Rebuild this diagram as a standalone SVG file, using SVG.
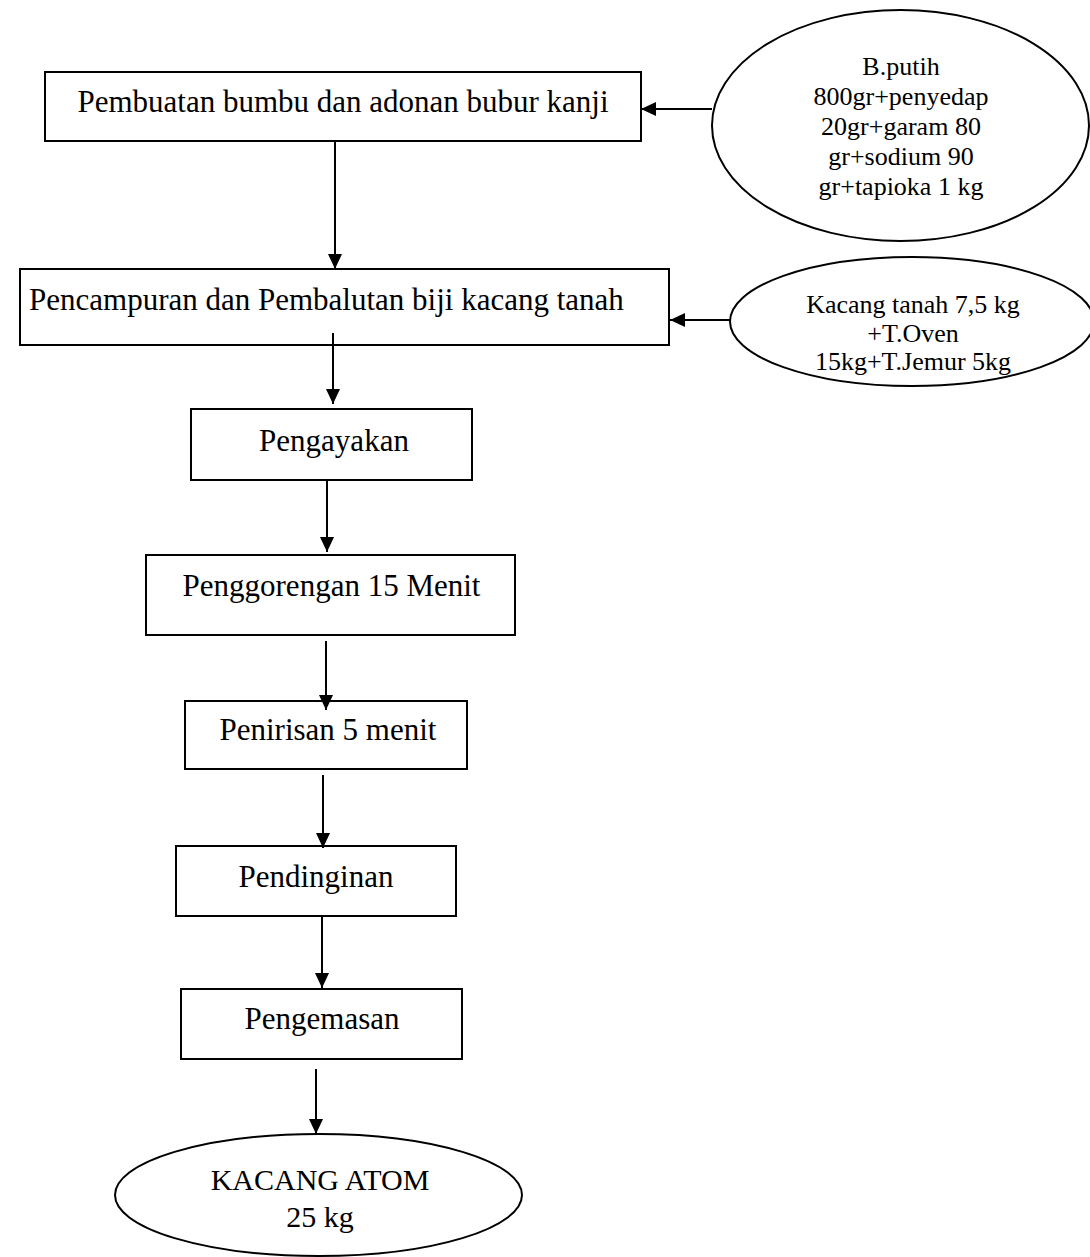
<svg xmlns="http://www.w3.org/2000/svg" width="1090" height="1257" viewBox="0 0 1090 1257">
<style>
.box{fill:#fff;stroke:#000;stroke-width:2}
.ell{fill:#fff;stroke:#000;stroke-width:2}
.t{font-family:"Liberation Serif","Times New Roman",serif;font-size:31px;fill:#000}
.s{font-family:"Liberation Serif","Times New Roman",serif;font-size:26px;fill:#000;text-anchor:middle}
.c{text-anchor:middle}
.ln{stroke:#000;stroke-width:2;fill:none;marker-end:url(#ah)}
</style>
<defs>
<marker id="ah" viewBox="0 0 15 14" refX="15" refY="7" markerWidth="15" markerHeight="14" markerUnits="userSpaceOnUse" orient="auto">
<path d="M0,0 L15,7 L0,14 Z" fill="#000"/>
</marker>
</defs>
<rect width="1090" height="1257" fill="#fff"/>
<g id="n1">
<rect class="box" x="45" y="72" width="596" height="69"/>
<text class="t c" x="343" y="112">Pembuatan bumbu dan adonan bubur kanji</text>
</g>
<g id="e1">
<ellipse class="ell" cx="900.5" cy="125.5" rx="188.5" ry="115.5"/>
<text class="s" x="901" y="75">B.putih</text>
<text class="s" x="901" y="105">800gr+penyedap</text>
<text class="s" x="901" y="135">20gr+garam 80</text>
<text class="s" x="901" y="165">gr+sodium 90</text>
<text class="s" x="901" y="195">gr+tapioka 1 kg</text>
</g>
<g id="n2">
<rect class="box" x="20" y="269" width="649" height="76"/>
<text class="t" x="29" y="310">Pencampuran dan Pembalutan biji kacang tanah</text>
</g>
<g id="e2">
<ellipse class="ell" cx="912" cy="321.5" rx="182" ry="64.5"/>
<text class="s" x="913" y="313">Kacang tanah 7,5 kg</text>
<text class="s" x="913" y="342">+T.Oven</text>
<text class="s" x="913" y="370">15kg+T.Jemur 5kg</text>
</g>
<g id="n3">
<rect class="box" x="191" y="409" width="281" height="71"/>
<text class="t c" x="334" y="451">Pengayakan</text>
</g>
<g id="n4">
<rect class="box" x="146" y="555" width="369" height="80"/>
<text class="t c" x="331.5" y="596">Penggorengan 15 Menit</text>
</g>
<g id="n5">
<rect class="box" x="185" y="701" width="282" height="68"/>
<text class="t c" x="328" y="740">Penirisan 5 menit</text>
</g>
<g id="n6">
<rect class="box" x="176" y="846" width="280" height="70"/>
<text class="t c" x="316" y="887">Pendinginan</text>
</g>
<g id="n7">
<rect class="box" x="181" y="989" width="281" height="70"/>
<text class="t c" x="322" y="1029">Pengemasan</text>
</g>
<g id="n8">
<ellipse class="ell" cx="318.5" cy="1195" rx="203.5" ry="61"/>
<text class="t c" x="320" y="1190" style="font-size:30px">KACANG ATOM</text>
<text class="t c" x="320" y="1227" style="font-size:30px">25 kg</text>
</g>
<g id="connectors">
<line class="ln" x1="712" y1="109" x2="641" y2="109"/>
<line class="ln" x1="335" y1="141" x2="335" y2="269"/>
<line class="ln" x1="730" y1="320" x2="670" y2="320"/>
<line class="ln" x1="333" y1="333" x2="333" y2="404"/>
<line class="ln" x1="327" y1="480" x2="327" y2="552"/>
<line class="ln" x1="326" y1="641" x2="326" y2="710"/>
<line class="ln" x1="323" y1="775" x2="323" y2="848"/>
<line class="ln" x1="322" y1="917" x2="322" y2="988"/>
<line class="ln" x1="316" y1="1069" x2="316" y2="1134"/>
</g>
</svg>
